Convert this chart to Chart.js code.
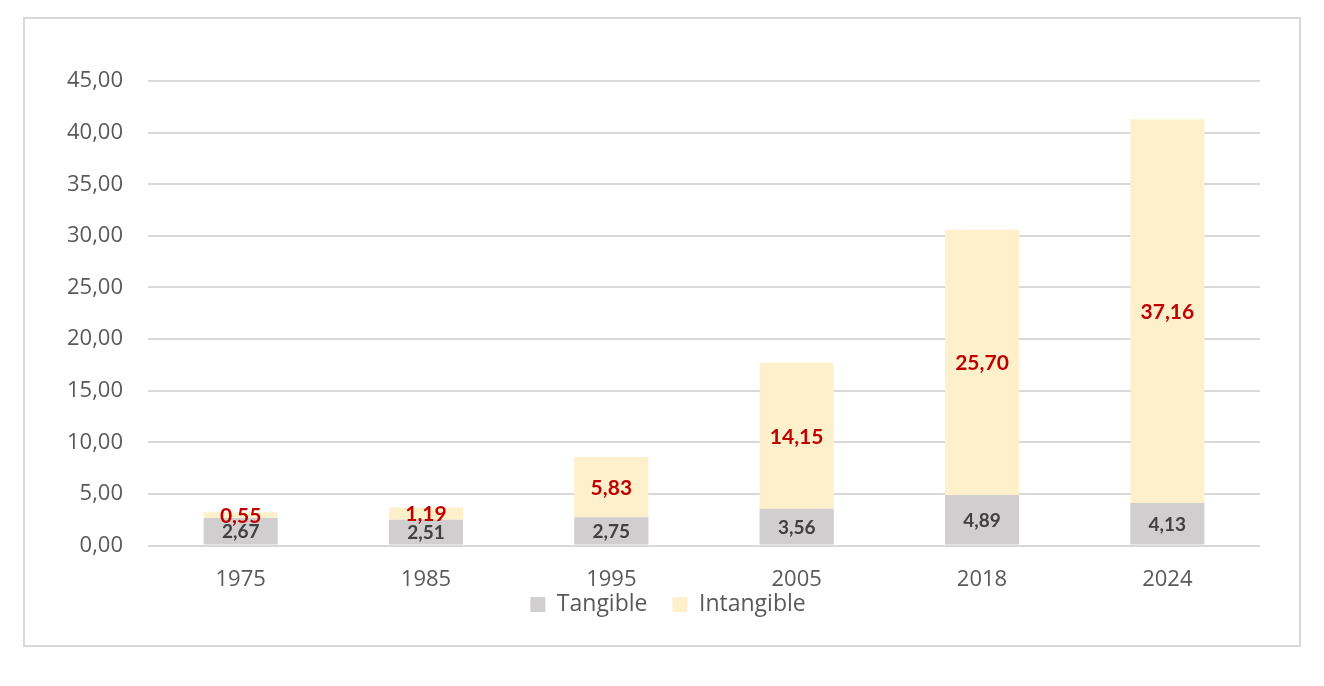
<!DOCTYPE html>
<html>
<head>
<meta charset="utf-8">
<script src="https://cdn.jsdelivr.net/npm/chart.js@4.4.1/dist/chart.umd.min.js"></script>
<style>
  html, body { margin: 0; padding: 0; background: #ffffff; }
  #wrap { position: absolute; left: 0; top: 0; width: 1324px; height: 686px; }
</style>
</head>
<body>
<div id="wrap"><canvas id="c" width="1324" height="686"></canvas></div>
<script>
const categories = ['1975', '1985', '1995', '2005', '2018', '2024'];
const tangible = [2.67, 2.51, 2.75, 3.56, 4.89, 4.13];
const intangible = [0.55, 1.19, 5.83, 14.15, 25.70, 37.16];
const yTicks = [0, 5, 10, 15, 20, 25, 30, 35, 40, 45];

const fmt = v => Number(v).toFixed(2).replace('.', ',');

const frame = {
  id: 'frame',
  afterLayout(chart) {
    const lg = chart.legend;
    if (lg) {
      const dy = lg.top - 568;
      lg.top -= dy;
      lg.bottom -= dy;
      const dx = 668 - (lg.left + lg.right) / 2;
      lg.left += dx;
      lg.right += dx;
    }
  },
  beforeDraw(chart) {
    const ctx = chart.ctx;
    ctx.save();
    ctx.fillStyle = '#ffffff';
    ctx.fillRect(0, 0, chart.width, chart.height);
    ctx.strokeStyle = '#d9d9d9';
    ctx.lineWidth = 2;
    ctx.strokeRect(24, 18, 1276, 628);
    ctx.restore();
  }
};

const labels = {
  id: 'barLabels',
  afterDatasetsDraw(chart) {
    const ctx = chart.ctx;
    ctx.save();
    ctx.textAlign = 'center';
    ctx.textBaseline = 'middle';
    chart.data.datasets.forEach((ds, di) => {
      const meta = chart.getDatasetMeta(di);
      meta.data.forEach((el, i) => {
        const p = el.getProps(['x', 'y', 'base'], true);
        const cy = (p.y + p.base) / 2;
        if (di === 0) {
          ctx.font = 'bold 19px Lato';
          ctx.fillStyle = '#404040';
        } else {
          ctx.font = 'bold 21px Lato';
          ctx.fillStyle = '#C00000';
        }
        ctx.fillText(fmt(ds.data[i]), p.x, cy + 1);
      });
    });
    ctx.restore();
  }
};

new Chart(document.getElementById('c'), {
  type: 'bar',
  data: {
    labels: categories,
    datasets: [
      { label: 'Tangible', data: tangible, backgroundColor: '#D0CECE', borderWidth: 0 },
      { label: 'Intangible', data: intangible, backgroundColor: '#FFF0CC', borderWidth: 0 }
    ]
  },
  options: {
    responsive: false,
    animation: false,
    layout: { padding: { left: 30, right: 64, top: 81, bottom: 14 } },
    datasets: { bar: { categoryPercentage: 1.0, barPercentage: 0.4 } },
    plugins: {
      legend: {
        position: 'bottom',
        labels: {
          boxWidth: 15, boxHeight: 15, padding: 25,
          color: '#595959',
          font: { family: 'Open Sans', size: 23 }
        }
      },
      tooltip: { enabled: false }
    },
    scales: {
      x: {
        stacked: true,
        grid: { display: false, drawTicks: false },
        border: { display: false },
        ticks: { color: '#595959', font: { family: 'Open Sans', size: 22 }, padding: 21 }
      },
      y: {
        stacked: true,
        min: 0, max: 45,
        afterFit(scale) { scale.width = 118; },
        afterBuildTicks(scale) { scale.ticks = yTicks.map(v => ({ value: v })); },
        grid: { color: '#d9d9d9', lineWidth: 2, drawTicks: false },
        border: { display: false },
        ticks: {
          color: '#595959',
          font: { family: 'Open Sans', size: 22 },
          padding: 25,
          callback: v => fmt(v)
        }
      }
    }
  },
  plugins: [frame, labels]
});
</script>
</body>
</html>
